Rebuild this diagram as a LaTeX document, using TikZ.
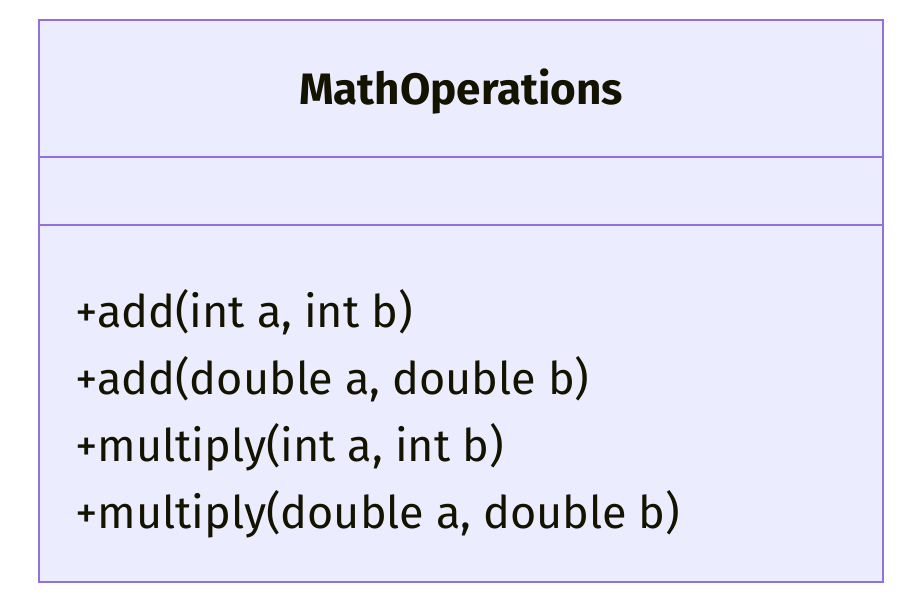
\documentclass[tikz,border=0pt]{standalone}
\usepackage{fontspec}
\setmainfont{Fira Sans}
\usepackage{tikz}
\usetikzlibrary{positioning}
\definecolor{classfill}{HTML}{ECECFF}
\definecolor{classline}{HTML}{9370DB}
\definecolor{classtext}{HTML}{131300}
\tikzstyle{classbox}=[draw=classline,fill=classfill,line width=2pt]
\tikzstyle{divider}=[draw=classline,line width=2pt]
\tikzstyle{member}=[anchor=base west,inner sep=0pt,text=classtext,font=\fontsize{45}{50}\selectfont]

\begin{document}
\begin{tikzpicture}[x=1pt,y=-1pt]
            \useasboundingbox (0,0) rectangle (919,601);
            \draw[classbox] (39,20) rectangle (883,582);
            \coordinate (d1w) at (39,157);
            \coordinate (d1e) at (883,157);
            \coordinate (d2w) at (39,225);
            \coordinate (d2e) at (883,225);
            \draw[divider] (d1w) -- (d1e);
            \draw[divider] (d2w) -- (d2e);
            \node[anchor=base,inner sep=0pt,text=classtext,font=\fontsize{44}{50}\selectfont\bfseries]
                (title) at (461,105) {MathOperations};
            \node[member] (m1) at (75,328) {+add(int a, int b)};
            \node[member] (m2) at (75,395) {+add(double a, double b)};
            \node[member] (m3) at (75,462) {+multiply(int a, int b)};
            \node[member] (m4) at (75,529) {+multiply(double a, double b)};
        \end{tikzpicture}
\end{document}
